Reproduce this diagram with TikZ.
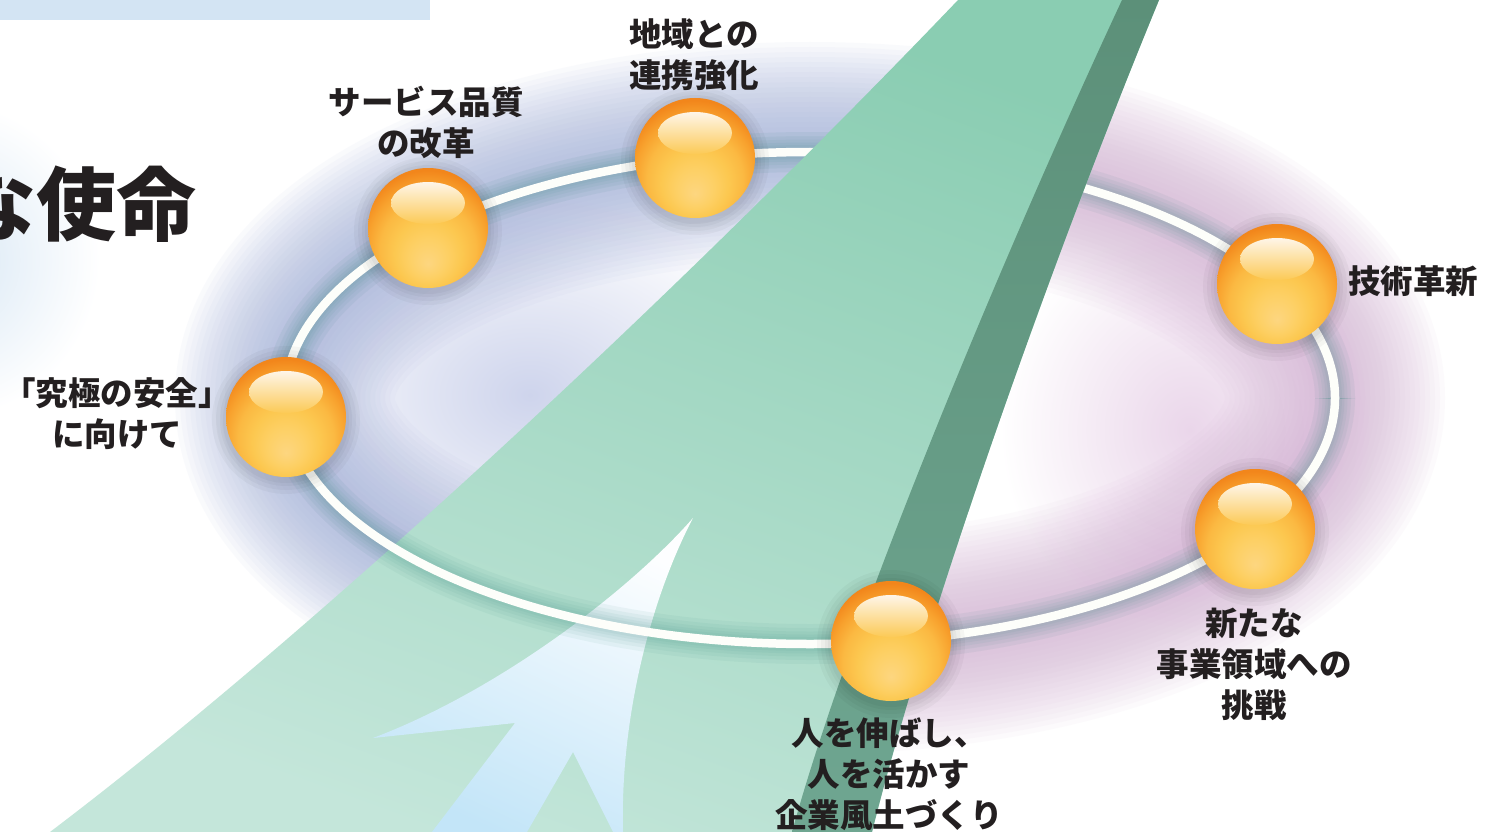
\documentclass[tikz,border=0pt]{standalone}
\usepackage{fontspec}
\newfontfamily\jpfont{Noto Sans CJK JP}

% palette
\definecolor{inkgray}{HTML}{231F20}
\definecolor{topbar}{HTML}{D3E4F3}
\definecolor{glowBlue}{HTML}{9AA8D5}
\definecolor{glowPink}{HTML}{D0ABD0}
\definecolor{blobLav}{HTML}{CED4EC}
\definecolor{blobRose}{HTML}{EAD6EA}
\definecolor{blobSky}{HTML}{D6E6F4}
\definecolor{ringShade}{HTML}{3E8E84}
\definecolor{ringWhite}{HTML}{FDFEFA}
\definecolor{bandTop}{HTML}{8ACDB2}
\definecolor{bandMid}{HTML}{93D1B9}
\definecolor{bandBot}{HTML}{C4E6DA}
\definecolor{darkTop}{HTML}{5C9079}
\definecolor{darkBot}{HTML}{6FA691}
\definecolor{arrowTop}{HTML}{FDFEFF}
\definecolor{arrowBot}{HTML}{C3E5F8}
\definecolor{orbA}{HTML}{FDD680}
\definecolor{orbB}{HTML}{FDD065}
\definecolor{orbC}{HTML}{FCC850}
\definecolor{orbD}{HTML}{FBB942}
\definecolor{orbE}{HTML}{F8A22E}
\definecolor{orbF}{HTML}{F2861B}
\definecolor{hiTop}{HTML}{FEF5E8}
\definecolor{hiMid}{HTML}{FCDDA6}
\definecolor{hiBot}{HTML}{FCCA56}

% glossy orange ball, lit from below
\pgfdeclareradialshading{orb}{\pgfpoint{0bp}{-15bp}}{%
  color(0bp)=(orbA); color(8bp)=(orbB); color(14bp)=(orbC);
  color(20bp)=(orbD); color(25bp)=(orbE); color(30bp)=(orbF); color(50bp)=(orbF)}

% white ring with its soft shadow
\newcommand{\ringlayers}{%
  \foreach \w in {40,32,25,19,14}
    \draw[ringShade, line width=\w pt, opacity=0.065]
      (810,398) ellipse [x radius=525pt, y radius=246pt];
  \draw[ringWhite, line width=8.5pt]
    (810,398) ellipse [x radius=525pt, y radius=246pt];
}

\tikzset{
  orbball/.style={circle, minimum size=120pt, inner sep=0pt, shade, shading=orb},
  orbtext/.style={font=\jpfont\bfseries\fontsize{32.5}{41}\selectfont,
                  text=inkgray, align=center, inner sep=0pt},
  glowline/.style={line width=#1 pt, opacity=0.05},
}

\begin{document}
\begin{tikzpicture}[x=1pt, y=-1pt]
\useasboundingbox (0,0) rectangle (1488,832);
\clip (0,0) rectangle (1488,832);
\fill[white] (0,0) rectangle (1488,832);

% soft background blobs
\shade[inner color=blobSky, outer color=white] (-60,260) circle (160pt);
\shade[inner color=blobLav, outer color=white] (530,395) ellipse [x radius=270pt, y radius=200pt];
\shade[inner color=blobRose, outer color=white] (1190,430) ellipse [x radius=190pt, y radius=210pt];

% glow along the ring: blue on the left, pink on the right
\begin{scope}
  \clip (0,0) -- (1140,0) .. controls (1035,240) and (890,610) .. (832,832) -- (0,832) -- cycle;
  \foreach \w in {220,210,...,10}
    \draw[glowBlue, glowline=\w] (810,398) ellipse [x radius=525pt, y radius=246pt];
\end{scope}
\begin{scope}
  \clip (1140,0) .. controls (1035,240) and (890,610) .. (832,832) -- (1488,832) -- (1488,0) -- cycle;
  \foreach \w in {220,210,...,10}
    \draw[glowPink, glowline=\w] (810,398) ellipse [x radius=525pt, y radius=246pt];
\end{scope}

% heading band
\fill[topbar] (0,0) rectangle (430,20.5);

% title
\node[anchor=east, inner sep=0pt, text=inkgray,
      font=\jpfont\bfseries\fontsize{80}{80}\selectfont] (mission) at (197,204) {な使命};

% back half of the ring
\begin{scope}
  \clip (0,0) rectangle (1488,398);
  \ringlayers
\end{scope}

% green swoosh
\shade[top color=bandTop, middle color=bandMid, bottom color=bandBot, shading angle=-20]
  (958,0) .. controls (700,270) and (330,620) .. (50,832)
  -- (872,832) .. controls (930,600) and (1060,240) .. (1159,0) -- cycle;
\shade[top color=darkTop, bottom color=darkBot]
  (1122,0) .. controls (1010,240) and (850,620) .. (792,832)
  -- (872,832) .. controls (930,600) and (1060,240) .. (1159,0) -- cycle;

% light blue arrow
\shade[top color=arrowTop, bottom color=arrowBot, shading angle=-25]
  (693,518) .. controls (630,590) and (500,690) .. (373,738)
  -- (515,723) -- (432,832) -- (527,832) -- (573,752) -- (613,832) -- (623,832)
  .. controls (620,720) and (650,600) .. (693,518) -- cycle;

% front half of the ring
\begin{scope}
  \clip (0,398) rectangle (1488,832);
  \ringlayers
\end{scope}

% orbs
\foreach \n/\x/\y in {s1/286/417, s2/428/228, s3/695/158, s4/1277/284, s5/1255/529, s6/891/641}{
  \foreach \r in {74,70,66,63}
    \fill[black, opacity=0.03] (\x,\y+3) circle (\r pt);
  \node[orbball] (\n) at (\x,\y) {};
  \shade[top color=hiTop, middle color=hiMid, bottom color=hiBot]
    ([yshift=25pt]\n.center) ellipse [x radius=37pt, y radius=21pt];
}

% captions
\node[orbtext] (t1) at (117,414) {「究極の安全」\\に向けて};
\node[orbtext] (t2) at (426,122) {サービス品質\\の改革};
\node[orbtext] (t3) at (694,55) {地域との\\連携強化};
\node[orbtext, anchor=west] (t4) at (1348,281) {技術革新};
\node[orbtext] (t5) at (1254,664) {新たな\\事業領域への\\挑戦};
\node[orbtext] (t6) at (889,774) {人を伸ばし、\\人を活かす\\企業風土づくり};
\end{tikzpicture}
\end{document}
